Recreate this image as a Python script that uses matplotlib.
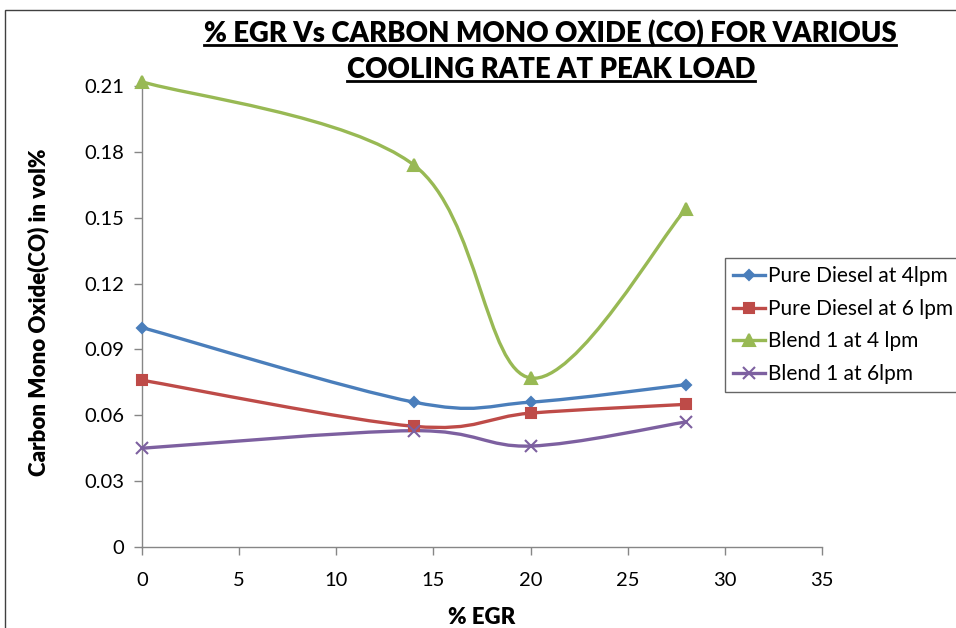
import numpy as np
import matplotlib
matplotlib.use("Agg")
import matplotlib.pyplot as plt
from matplotlib.path import Path
from matplotlib.patches import PathPatch, Rectangle
from matplotlib.lines import Line2D

plt.rcParams['font.family'] = ['Lato', 'DejaVu Sans']

# data
egr = [0, 14, 20, 28]
pd_4lpm = [0.100, 0.066, 0.066, 0.074]
pd_6lpm = [0.076, 0.055, 0.061, 0.065]
b1_4lpm = [0.212, 0.174, 0.077, 0.154]
b1_6lpm = [0.045, 0.053, 0.046, 0.057]
labels = ['Pure Diesel at 4lpm', 'Pure Diesel at 6 lpm', 'Blend 1 at 4 lpm', 'Blend 1 at 6lpm']
colors = ['#4A7EBB', '#BE4B48', '#98B954', '#7D60A0']
markers = ['D', 's', '^', 'x']
msizes = [5, 7, 8, 9]
yticks = [0, 0.03, 0.06, 0.09, 0.12, 0.15, 0.18, 0.21]
xticks = [0, 5, 10, 15, 20, 25, 30, 35]


def smooth_path(xs, ys):
    # excel style smoothed line as cubic bezier segments
    p = np.column_stack([xs, ys]).astype(float)
    n = len(p)
    verts = [p[0]]
    codes = [Path.MOVETO]
    for i in range(n - 1):
        p0 = p[i - 1] if i > 0 else p[i]
        p3 = p[i + 2] if i + 2 < n else p[i + 1]
        c1 = p[i] + (p[i + 1] - p0) / 6
        c2 = p[i + 1] - (p3 - p[i]) / 6
        verts += [c1, c2, p[i + 1]]
        codes += [Path.CURVE4] * 3
    return Path(verts, codes)


fig = plt.figure(figsize=(9.56, 6.28), dpi=100)
ax = fig.add_axes([142 / 956, 1 - 547 / 628, 680 / 956, (547 - 78) / 628])

series = [pd_4lpm, pd_6lpm, b1_4lpm, b1_6lpm]
handles = []
for ys, c, m, ms, lab in zip(series, colors, markers, msizes, labels):
    ax.add_patch(PathPatch(smooth_path(egr, ys), facecolor='none', edgecolor=c,
                           lw=2.4, capstyle='round', joinstyle='round', zorder=2))
    ax.plot(egr, ys, ls='none', marker=m, ms=ms, color=c, mew=1.5, zorder=3, clip_on=False)
    handles.append(Line2D([], [], color=c, lw=2.4, marker=m, ms=ms, mew=1.5))

ax.set_xlim(0, 35)
ax.set_ylim(0, 0.2137)
ax.set_xticks(xticks)
ax.set_yticks(yticks)
ax.set_yticklabels(['0' if v == 0 else f'{v:.2f}' for v in yticks])
for s in ['top', 'right']:
    ax.spines[s].set_visible(False)
for s in ['left', 'bottom']:
    ax.spines[s].set_color('#868686')
    ax.spines[s].set_linewidth(1)
ax.tick_params(axis='both', colors='#868686', labelcolor='black', labelsize=14.5,
               length=6, width=1)
ax.tick_params(axis='x', pad=12)
ax.tick_params(axis='y', pad=7)

ax.set_ylabel('Carbon Mono Oxide(CO) in vol%', fontsize=16, fontweight='heavy', labelpad=25)
ax.set_xlabel('% EGR', fontsize=16, fontweight='heavy', labelpad=13)

leg = fig.legend(handles, labels, loc='upper left', bbox_to_anchor=(725 / 956, 1 - 258 / 628),
                 fontsize=15, frameon=True, fancybox=False, handlelength=1.5,
                 handletextpad=0.15, borderpad=0.4, labelspacing=0.6, borderaxespad=0)
leg.get_frame().set_edgecolor('#404040')
leg.get_frame().set_linewidth(1)

t1 = fig.text(550 / 956, 1 - 42 / 628, '% EGR Vs CARBON MONO OXIDE (CO) FOR VARIOUS',
              ha='center', va='baseline', fontsize=19.8, fontweight='heavy')
t2 = fig.text(551 / 956, 1 - 78 / 628, 'COOLING RATE AT PEAK LOAD',
              ha='center', va='baseline', fontsize=19.8, fontweight='heavy')

# chart area border
fig.add_artist(Rectangle((5 / 956, -0.1), 1.2, 1.1 - 10 / 628, transform=fig.transFigure,
                         fill=False, edgecolor='#404040', lw=1))

fig.canvas.draw()
r = fig.canvas.get_renderer()
for t, yb in [(t1, 45), (t2, 81)]:
    bb = t.get_window_extent(r)
    y = 1 - yb / 628
    fig.add_artist(Line2D([bb.x0 / 956, bb.x1 / 956], [y, y], color='black', lw=2,
                          transform=fig.transFigure))

fig.savefig('out.png', dpi=100)
